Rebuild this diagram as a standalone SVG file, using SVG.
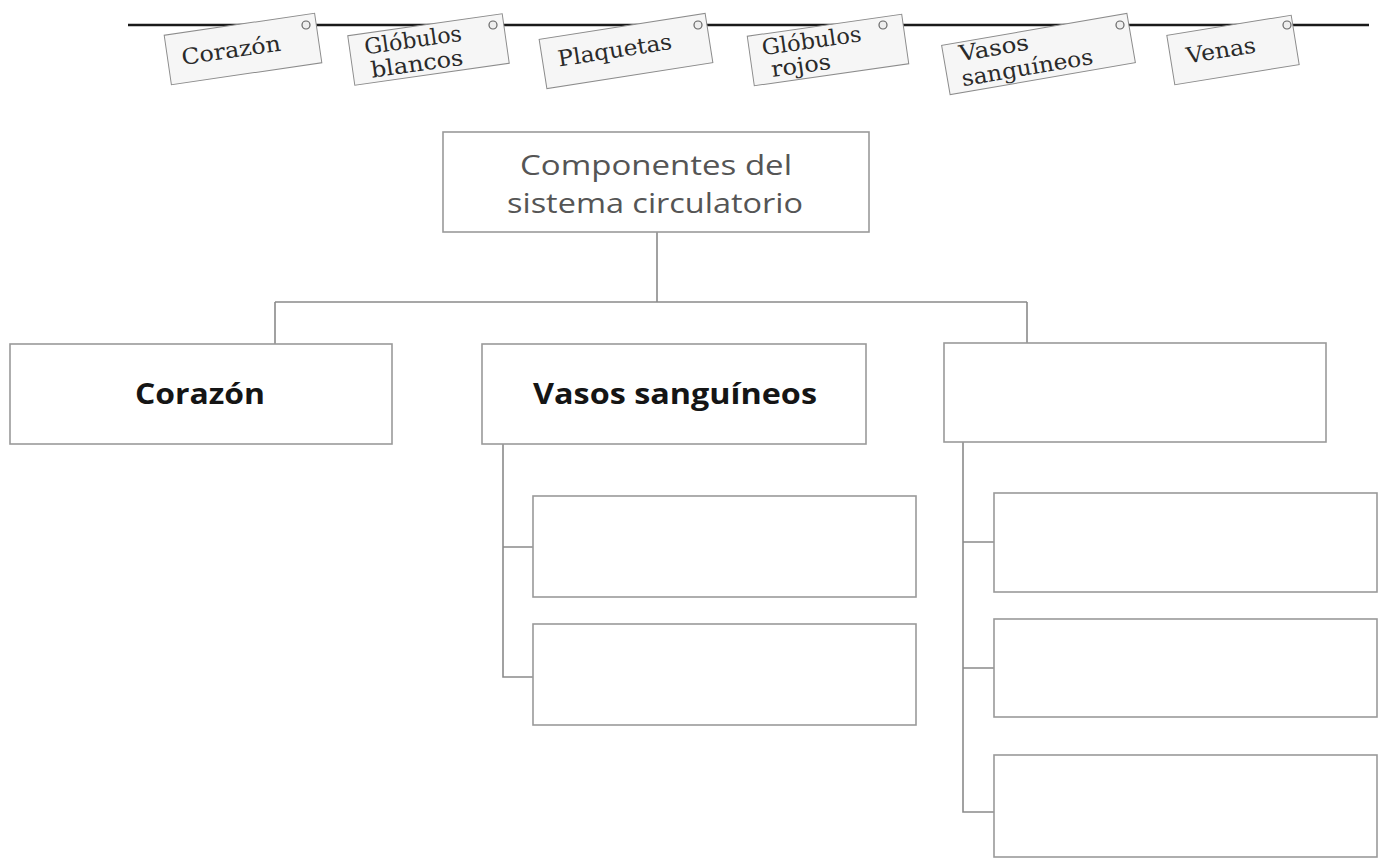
<svg xmlns="http://www.w3.org/2000/svg" width="1383" height="862" viewBox="0 0 1383 862">
<style>
.box{fill:#fff;stroke:#9a9a9a;stroke-width:1.6}
.con{fill:none;stroke:#8a8a8a;stroke-width:1.6}
.tag{fill:#f6f6f6;stroke:#8c8c8c;stroke-width:1}
.hole{fill:#eee;stroke:#666;stroke-width:1.2}
.tt{font-family:"DejaVu Serif","Liberation Serif",serif;font-size:22px;fill:#2a2a2a}
.title{font-family:"Open Sans","Liberation Sans",sans-serif;font-size:27px;fill:#555;text-anchor:middle}
.bold{font-family:"Open Sans","Liberation Sans",sans-serif;font-size:28px;font-weight:700;fill:#151515;text-anchor:middle}
</style>
<rect width="1383" height="862" fill="#fff"/>
<line x1="128" y1="25" x2="1369" y2="25" stroke="#1a1a1a" stroke-width="2.5"/>
<g id="tags">
<g id="tag-corazon" transform="translate(243,49) rotate(-8.3)">
<rect class="tag" x="-76" y="-25" width="152" height="50"/>
<text class="tt" x="-12" y="7" text-anchor="middle" textLength="100" lengthAdjust="spacingAndGlyphs">Corazón</text>
</g>
<g id="tag-globulos-blancos" transform="translate(428.5,49.5) rotate(-8.1)">
<rect class="tag" x="-78" y="-25" width="156" height="50"/>
<text class="tt" x="-63" y="-4" textLength="98" lengthAdjust="spacingAndGlyphs">Glóbulos</text>
<text class="tt" x="-60" y="20" textLength="93" lengthAdjust="spacingAndGlyphs">blancos</text>
</g>
<g id="tag-plaquetas" transform="translate(626,51) rotate(-8.9)">
<rect class="tag" x="-84" y="-25" width="168" height="50"/>
<text class="tt" x="-11" y="5" text-anchor="middle" textLength="115" lengthAdjust="spacingAndGlyphs">Plaquetas</text>
</g>
<g id="tag-globulos-rojos" transform="translate(828,50) rotate(-8.1)">
<rect class="tag" x="-78" y="-25" width="156" height="50"/>
<text class="tt" x="-65" y="-4" textLength="100" lengthAdjust="spacingAndGlyphs">Glóbulos</text>
<text class="tt" x="-59" y="19" textLength="60" lengthAdjust="spacingAndGlyphs">rojos</text>
</g>
<g id="tag-vasos" transform="translate(1038.5,54) rotate(-9.8)">
<rect class="tag" x="-94" y="-25" width="188" height="50"/>
<text class="tt" x="-78" y="-6" textLength="70" lengthAdjust="spacingAndGlyphs">Vasos</text>
<text class="tt" x="-80" y="19" textLength="133" lengthAdjust="spacingAndGlyphs">sanguíneos</text>
</g>
<g id="tag-venas" transform="translate(1233,50) rotate(-9.2)">
<rect class="tag" x="-63" y="-25" width="126" height="50"/>
<text class="tt" x="-12" y="6" text-anchor="middle" textLength="70" lengthAdjust="spacingAndGlyphs">Venas</text>
</g>
<circle class="hole" cx="306" cy="25" r="4"/>
<circle class="hole" cx="493" cy="25" r="4"/>
<circle class="hole" cx="698" cy="25" r="4"/>
<circle class="hole" cx="883" cy="25" r="4"/>
<circle class="hole" cx="1120" cy="25" r="4"/>
<circle class="hole" cx="1287" cy="25" r="4"/>
</g>
<g id="connectors">
<path class="con" d="M657 232 V302 M275 302 H1027 M275 302 V344 M1027 302 V343"/>
<path class="con" d="M503 444 V677 H533 M503 547 H533"/>
<path class="con" d="M963 442 V812 H994 M963 542 H994 M963 668 H994"/>
</g>
<g id="node-root">
<rect class="box" x="443" y="132" width="426" height="100"/>
<text class="title" x="656" y="175" textLength="272" lengthAdjust="spacingAndGlyphs">Componentes del</text>
<text class="title" x="655" y="213" textLength="296" lengthAdjust="spacingAndGlyphs">sistema circulatorio</text>
</g>
<g id="node-corazon">
<rect class="box" x="10" y="344" width="382" height="100"/>
<text class="bold" x="200" y="404" textLength="130" lengthAdjust="spacingAndGlyphs">Corazón</text>
</g>
<g id="node-vasos">
<rect class="box" x="482" y="344" width="384" height="100"/>
<text class="bold" x="675" y="404" textLength="284" lengthAdjust="spacingAndGlyphs">Vasos sanguíneos</text>
</g>
<g id="node-third">
<rect class="box" x="944" y="343" width="382" height="99"/>
</g>
<g id="node-vasos-1"><rect class="box" x="533" y="496" width="383" height="101"/></g>
<g id="node-vasos-2"><rect class="box" x="533" y="624" width="383" height="101"/></g>
<g id="node-third-1"><rect class="box" x="994" y="493" width="383" height="99"/></g>
<g id="node-third-2"><rect class="box" x="994" y="619" width="383" height="98"/></g>
<g id="node-third-3"><rect class="box" x="994" y="755" width="383" height="102"/></g>
</svg>
